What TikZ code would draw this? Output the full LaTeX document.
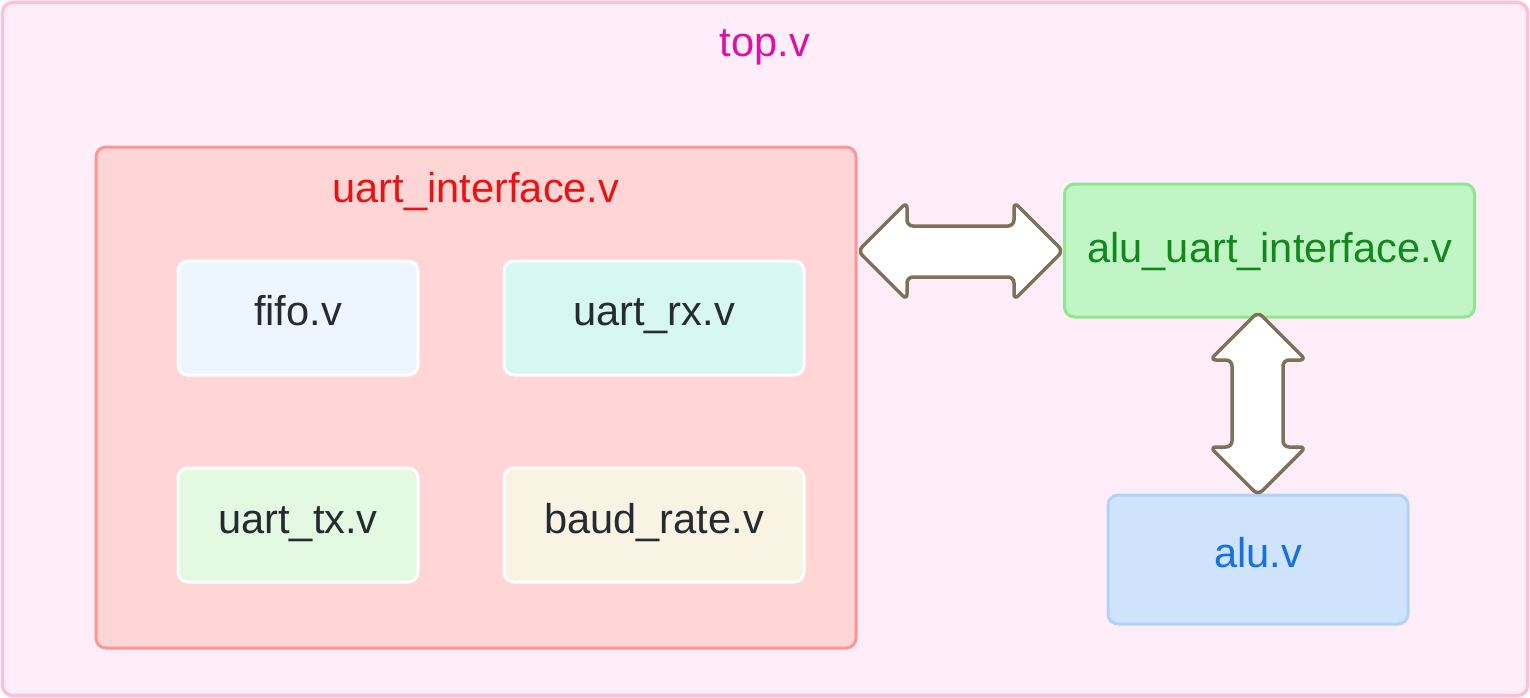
\documentclass[tikz,border=0pt]{standalone}
\usepackage{fontspec}
\setmainfont{Liberation Sans}
\definecolor{outerfill}{HTML}{FFEEF9}
\definecolor{outerdraw}{HTML}{FFBFD9}
\definecolor{toptxt}{HTML}{DD10A8}
\definecolor{uifill}{HTML}{FFD5D6}
\definecolor{uidraw}{HTML}{FF9494}
\definecolor{uitxt}{HTML}{E81414}
\definecolor{fifofill}{HTML}{EDF5FF}
\definecolor{rxfill}{HTML}{D6F7F2}
\definecolor{txfill}{HTML}{E3F9E2}
\definecolor{baudfill}{HTML}{F8F3E3}
\definecolor{darktxt}{HTML}{262A33}
\definecolor{aufill}{HTML}{C2F5C6}
\definecolor{audraw}{HTML}{90E590}
\definecolor{autxt}{HTML}{10891A}
\definecolor{alufill}{HTML}{CFE3FD}
\definecolor{aludraw}{HTML}{B0D2FB}
\definecolor{alutxt}{HTML}{1570E3}
\definecolor{arrowdraw}{HTML}{7F705A}
\begin{document}
\begin{tikzpicture}[x=1pt,y=-1pt,
  box/.style={rectangle, rounded corners=10pt, inner sep=0pt, outer sep=0pt, line width=3pt},
  inbox/.style={box, draw=white, minimum width=240pt, minimum height=114pt},
  lbl/.style={font=\fontsize{41.6}{50}\selectfont, anchor=base, inner sep=0pt},
  blockarrow/.style={draw=arrowdraw, fill=white, line width=3.5pt, rounded corners=6pt, line join=round}]
\useasboundingbox (0,0) rectangle (1530,698);
% outer
\node[box, draw=outerdraw, fill=outerfill, minimum width=1525pt, minimum height=693pt, line width=3.5pt] (top) at (765,349) {};
\node[lbl, text=toptxt] (toplbl) at (765,57) {top.v};
% uart interface
\node[box, draw=uidraw, fill=uifill, minimum width=760pt, minimum height=501pt] (ui) at (476,397.5) {};
\node[lbl, text=uitxt] (uilbl) at (476,202) {uart\_interface.v};
% inner boxes
\node[inbox, fill=fifofill] (fifo) at (298,318) {};
\node[inbox, fill=rxfill, minimum width=300pt] (rx) at (654,318) {};
\node[inbox, fill=txfill] (tx) at (298,525) {};
\node[inbox, fill=baudfill, minimum width=300pt] (baud) at (654,525) {};
\node[lbl, text=darktxt] at (298,325) {fifo.v};
\node[lbl, text=darktxt] at (654,325) {uart\_rx.v};
\node[lbl, text=darktxt] at (298,533) {uart\_tx.v};
\node[lbl, text=darktxt] at (654,533) {baud\_rate.v};
% alu uart interface
\node[box, draw=audraw, fill=aufill, minimum width=410pt, minimum height=133pt] (au) at (1269.5,250.5) {};
\node[lbl, text=autxt] (aulbl) at (1270,262) {alu\_uart\_interface.v};
% alu
\node[box, draw=aludraw, fill=alufill, minimum width=300pt, minimum height=129pt] (alu) at (1258,559.5) {};
\node[lbl, text=alutxt] (alulbl) at (1258,567) {alu.v};
% horizontal block arrow
\draw[blockarrow] (858,251) -- (907,202) -- (907,226) -- (1014,226) -- (1014,202) -- (1063,251)
  -- (1014,300) -- (1014,277) -- (907,277) -- (907,300) -- cycle;
% vertical block arrow
\draw[blockarrow] (1258,312) -- (1306,360) -- (1283,360) -- (1283,447) -- (1306,447) -- (1258,495)
  -- (1210,447) -- (1232,447) -- (1232,360) -- (1210,360) -- cycle;
\end{tikzpicture}
\end{document}
